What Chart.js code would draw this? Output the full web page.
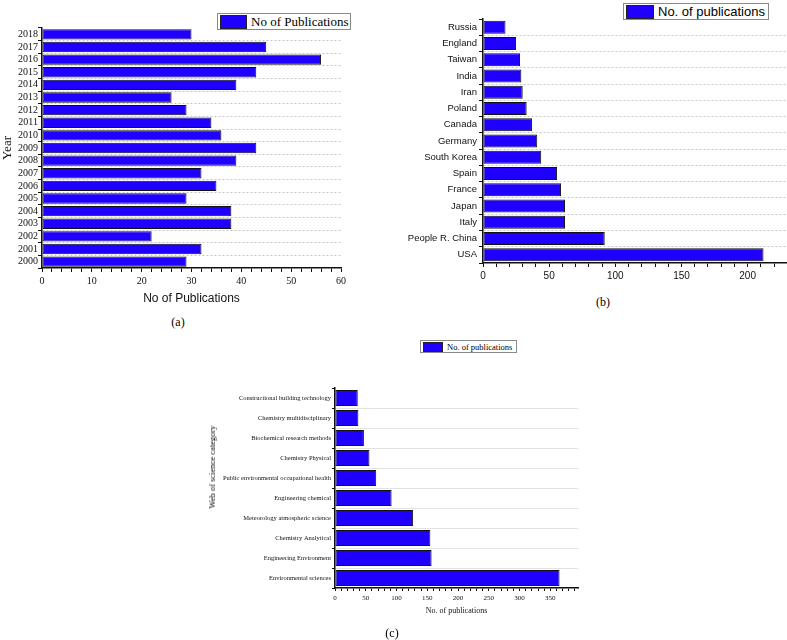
<!DOCTYPE html>
<html>
<head>
<meta charset="utf-8">
<script src="https://cdn.jsdelivr.net/npm/chart.js@4.4.0/dist/chart.umd.min.js"></script>
<style>
  body { margin: 0; background: #fff; }
  #page { position: relative; width: 787px; height: 640px; overflow: hidden; }
  .box { position: absolute; }
  .lgd { position: absolute; border: 1px solid #8a8a8a; background: #fff; display: flex; align-items: center; box-sizing: border-box; }
  .sw { border: 1px solid #222; box-sizing: border-box; margin: 0 4px 0 2px; }
  .cap { position: absolute; font-family: "Liberation Serif", serif; transform: translateX(-50%); }
</style>
</head>
<body>
<div id="page">
  <div class="box" style="left:0;top:0;width:370px;height:312px"><canvas id="chartA" width="370" height="312"></canvas></div>
  <div class="box" style="left:390px;top:0;width:397px;height:290px"><canvas id="chartB" width="397" height="290"></canvas></div>
  <div class="box" style="left:200px;top:330px;width:400px;height:300px"><canvas id="chartC" width="400" height="300"></canvas></div>

  <div class="lgd" id="legA" style="left:217px;top:13px;width:134px;height:17px;font:13px 'Liberation Serif', serif"></div>
  <div class="lgd" id="legB" style="left:623px;top:3px;width:146px;height:17px;font:13px 'Liberation Sans', sans-serif"></div>
  <div class="lgd" id="legC" style="left:420px;top:340px;width:97px;height:13px;font:8.5px 'Liberation Serif', serif"></div>

  <div class="cap" style="left:178px;top:315px;font-size:12px">(a)</div>
  <div class="cap" style="left:603px;top:295px;font-size:12px">(b)</div>
  <div class="cap" style="left:392px;top:626px;font-size:12px">(c)</div>
  <div style="position:absolute;left:212px;top:467px;transform:translate(-50%,-50%) rotate(-90deg);white-space:nowrap;font:8.5px 'Liberation Serif', serif">Web of science category</div>
</div>

<script>
// (a) publications per year
const years = ['2000','2001','2002','2003','2004','2005','2006','2007','2008','2009','2010','2011','2012','2013','2014','2015','2016','2017','2018'];
const pubsByYear = [29, 32, 22, 38, 38, 29, 35, 32, 39, 43, 36, 34, 29, 26, 39, 43, 56, 45, 30];
const labelA = 'No of Publications';

// (b) publications per country
const countries = ['USA','People R. China','Italy','Japan','France','Spain','South Korea','Germany','Canada','Poland','Iran','India','Taiwan','England','Russia'];
const pubsByCountry = [212, 92, 62, 62, 59, 56, 44, 41, 37, 33, 30, 29, 28, 25, 17];
const labelB = 'No. of publications';

// (c) publications per web of science category
const categories = ['Environmental sciences','Engineering Environment','Chemistry Analytical','Meteorology atmospheric science','Engineering chemical','Public environmental occupational health','Chemistry Physical','Biochemical research methods','Chemistry multidisciplinary','Constructional building technology'];
const pubsByCategory = [365, 157, 155, 127, 92, 67, 56, 47, 38, 37];
const labelC = 'No. of publications';

const barBlue = '#1f00ff';
const serif = '"Liberation Serif", "Times New Roman", serif';
const sans = '"Liberation Sans", Arial, sans-serif';

function legend(id, text, w, h) {
    var el = document.getElementById(id);
    var sw = document.createElement('span');
    sw.className = 'sw';
    sw.style.width = w + 'px';
    sw.style.height = h + 'px';
    sw.style.background = barBlue;
    el.appendChild(sw);
    el.appendChild(document.createTextNode(text));
}

function makeChart(id, labels, values, label, o) {
    // hide the top/bottom boundary grid lines
    var gridColor = function (c) {
        return (c.index === 0 || c.index === undefined) ? 'rgba(0,0,0,0)' : o.gridColor;
    };
    return new Chart(document.getElementById(id), {
        type: 'bar',
        data: {
            labels: labels,
            datasets: [{
                label: label,
                data: values,
                backgroundColor: barBlue,
                borderColor: '#111',
                borderWidth: 1,
                borderSkipped: false,
                barPercentage: o.barPct,
                categoryPercentage: 1
            }]
        },
        options: {
            indexAxis: 'y',
            responsive: false,
            animation: false,
            layout: { padding: o.padding },
            plugins: { legend: { display: false }, tooltip: { enabled: false } },
            scales: {
                y: {
                    reverse: true,
                    afterFit: function (s) { s.width = o.yWidth; },
                    grid: { offset: true, color: gridColor, tickColor: '#111', tickLength: o.tickLen, lineWidth: 1 },
                    border: { color: '#111', width: 1.5, dash: o.dash },
                    ticks: { autoSkip: false, padding: o.yPad, color: '#111', font: { family: o.yFont, size: o.ySize } },
                    title: o.yTitle ? { display: true, text: o.yTitle, color: '#111', padding: { top: 0, bottom: 0 }, font: { family: serif, size: 13 } } : { display: false }
                },
                x: {
                    min: 0,
                    max: o.max,
                    afterFit: function (s) { s.height = o.xHeight; },
                    grid: { drawOnChartArea: false, tickColor: '#111', tickLength: o.tickLen },
                    border: { color: '#111', width: 1.5 },
                    ticks: {
                        stepSize: o.step,
                        autoSkip: false,
                        maxRotation: 0,
                        includeBounds: false,
                        padding: 3,
                        color: '#111',
                        font: { family: o.xFont, size: o.xSize },
                        callback: function (v) { return v % o.every === 0 ? v : ''; }
                    },
                    title: o.xTitle ? { display: true, text: o.xTitle, color: '#111', padding: { top: 2, bottom: o.xTitlePad }, font: { family: o.xTitleFont, size: o.xTitleSize } } : { display: false }
                }
            }
        }
    });
}

makeChart('chartA', years, pubsByYear, labelA, {
    padding: { left: 0, top: 28, right: 29, bottom: 0 },
    yWidth: 42, xHeight: 44, tickLen: 4, yPad: 0,
    yFont: serif, ySize: 10, xFont: serif, xSize: 10,
    max: 60, step: 2, every: 10, barPct: 0.82,
    gridColor: '#c4c4c4', dash: [2, 2],
    yTitle: 'Year', xTitle: 'No of Publications', xTitleFont: sans, xTitleSize: 12, xTitlePad: 6
});

makeChart('chartB', countries, pubsByCountry, labelB, {
    padding: { left: 0, top: 19, right: 1, bottom: 0 },
    yWidth: 93, xHeight: 27, tickLen: 4, yPad: 2,
    yFont: sans, ySize: 9.5, xFont: sans, xSize: 10,
    max: 229, step: 10, every: 50, barPct: 0.8,
    gridColor: '#c4c4c4', dash: [2, 2]
});

makeChart('chartC', categories, pubsByCategory, labelC, {
    padding: { left: 0, top: 58, right: 22, bottom: 0 },
    yWidth: 135, xHeight: 42, tickLen: 3, yPad: 1,
    yFont: serif, ySize: 6.5, xFont: serif, xSize: 7,
    max: 395, step: 10, every: 50, barPct: 0.8,
    gridColor: '#e2e2e2', dash: [],
    xTitle: 'No. of publications', xTitleFont: serif, xTitleSize: 8, xTitlePad: 14
});

legend('legA', labelA, 27, 14);
legend('legB', labelB, 28, 14);
legend('legC', labelC, 20, 10);
</script>
</body>
</html>
